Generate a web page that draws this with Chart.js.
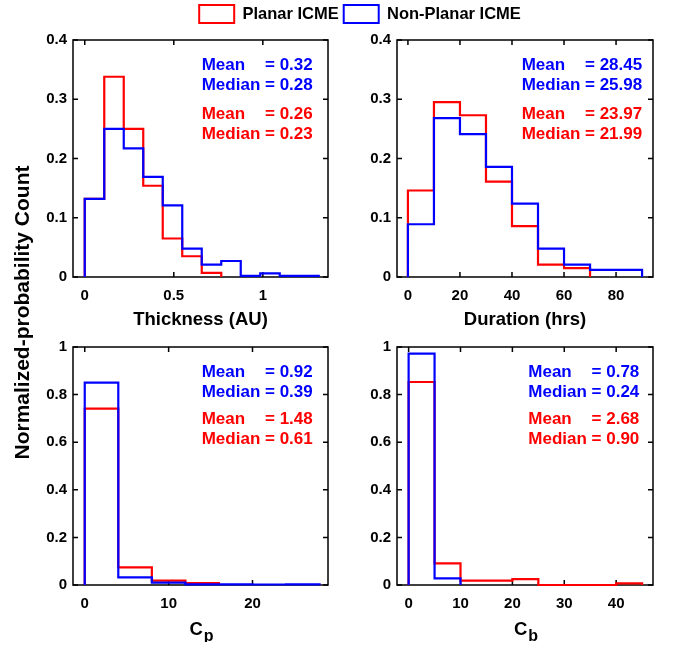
<!DOCTYPE html>
<html><head><meta charset="utf-8">
<script src="https://cdn.jsdelivr.net/npm/chart.js@4.4.0/dist/chart.umd.min.js"></script>
<style>
html,body{margin:0;padding:0;background:#fff;}
#wrap{position:relative;width:673px;height:650px;overflow:hidden;background:#fff;}
canvas{position:absolute;}
</style></head><body><div id="wrap">
<canvas id="bg"></canvas>
<canvas id="c1"></canvas>
<canvas id="c2"></canvas>
<canvas id="c3"></canvas>
<canvas id="c4"></canvas>
</div>
<script>
// ---------------- DATA ----------------
const seriesNames = ['Planar ICME', 'Non-Planar ICME'];
const yAxisTitle = 'Normalized-probability Count';

// Thickness (AU)
const thicknessEdges = [0, 0.1095, 0.219, 0.3285, 0.438, 0.5475, 0.657, 0.7665, 0.876, 0.9855, 1.095, 1.2045, 1.314];
const thicknessPlanar = [0.132, 0.338, 0.250, 0.154, 0.065, 0.035, 0.007];
const thicknessNonPlanar = [0.132, 0.250, 0.217, 0.169, 0.121, 0.048, 0.021, 0.027, 0.002, 0.006, 0.002, 0.002];
const thicknessXTicks = [0, 0.5, 1];
const thicknessXLabels = ['0', '0.5', '1'];
const thicknessStatsPlanar = ['0.26', '0.23'];
const thicknessStatsNonPlanar = ['0.32', '0.28'];

// Duration (hrs)
const durationEdges = [0, 10, 20, 30, 40, 50, 60, 70, 80, 90];
const durationPlanar = [0.146, 0.295, 0.273, 0.161, 0.086, 0.021, 0.015];
const durationNonPlanar = [0.089, 0.268, 0.241, 0.186, 0.124, 0.048, 0.021, 0.012, 0.012];
const durationXTicks = [0, 20, 40, 60, 80];
const durationXLabels = ['0', '20', '40', '60', '80'];
const durationStatsPlanar = ['23.97', '21.99'];
const durationStatsNonPlanar = ['28.45', '25.98'];

// Cp
const cpEdges = [0, 4, 8, 12, 16, 20, 24, 28];
const cpPlanar = [0.741, 0.074, 0.018, 0.008];
const cpNonPlanar = [0.850, 0.032, 0.010, 0.003, 0.003, 0.002, 0.003];
const cpXTicks = [0, 10, 20];
const cpXLabels = ['0', '10', '20'];
const cpStatsPlanar = ['1.48', '0.61'];
const cpStatsNonPlanar = ['0.92', '0.39'];

// Cb
const cbEdges = [0, 5, 10, 15, 20, 25, 30, 35, 40, 45];
const cbPlanar = [0.853, 0.091, 0.018, 0.018, 0.025, 0, 0, 0, 0.007];
const cbNonPlanar = [0.972, 0.028];
const cbXTicks = [0, 10, 20, 30, 40];
const cbXLabels = ['0', '10', '20', '30', '40'];
const cbStatsPlanar = ['2.68', '0.90'];
const cbStatsNonPlanar = ['0.78', '0.24'];

const topYTicks = [0, 0.1, 0.2, 0.3, 0.4];
const topYLabels = ['0', '0.1', '0.2', '0.3', '0.4'];
const botYTicks = [0, 0.2, 0.4, 0.6, 0.8, 1];
const botYLabels = ['0', '0.2', '0.4', '0.6', '0.8', '1'];

// ---------------- STYLE / LAYOUT ----------------
const RED = '#ff0000', BLUE = '#0000ff';
const FONT = '"Liberation Sans", Arial, Helvetica, sans-serif';
Chart.defaults.font.family = FONT;
Chart.defaults.color = '#000';

function stairs(edges, vals) {
  const pts = [{x: edges[0], y: 0}];
  vals.forEach((v, i) => pts.push({x: edges[i], y: v}));
  pts.push({x: edges[vals.length], y: 0});
  return pts;
}

const boxPlugin = {
  id: 'matlabBox',
  beforeDatasetsDraw(chart) {
    const {ctx, chartArea: a, scales: {x, y}} = chart;
    ctx.save();
    ctx.strokeStyle = '#000';
    ctx.lineWidth = 1.5;
    ctx.strokeRect(a.left, a.top, a.right - a.left, a.bottom - a.top);
    const L = 5;
    ctx.beginPath();
    x.ticks.forEach(t => {
      const px = x.getPixelForValue(t.value);
      ctx.moveTo(px, a.bottom); ctx.lineTo(px, a.bottom - L);
      ctx.moveTo(px, a.top); ctx.lineTo(px, a.top + L);
    });
    y.ticks.forEach(t => {
      const py = y.getPixelForValue(t.value);
      ctx.moveTo(a.left, py); ctx.lineTo(a.left + L, py);
      ctx.moveTo(a.right, py); ctx.lineTo(a.right - L, py);
    });
    ctx.stroke();
    ctx.restore();
  },
  afterDatasetsDraw(chart, args, opts) {
    const {ctx, chartArea: a} = chart;
    if (!opts || !opts.groups) return;
    ctx.save();
    ctx.font = 'bold 17px ' + FONT;
    ctx.textBaseline = 'alphabetic';
    const x0 = a.left + opts.dx;
    opts.groups.forEach(g => {
      const wMed = ctx.measureText('Median = ' + g.vals[1]).width;
      ctx.fillStyle = g.color;
      ctx.textAlign = 'left';
      ctx.fillText('Mean', x0, a.top + g.y[0]);
      ctx.fillText('Median = ' + g.vals[1], x0, a.top + g.y[1]);
      ctx.textAlign = 'right';
      ctx.fillText('= ' + g.vals[0], x0 + wMed, a.top + g.y[0]);
    });
    if (opts.sub) {
      ctx.fillStyle = '#000';
      ctx.textAlign = 'left';
      ctx.font = 'bold 18.5px ' + FONT;
      const wc = ctx.measureText(opts.sub[0]).width;
      ctx.font = 'bold 16px ' + FONT;
      const ws = ctx.measureText(opts.sub[1]).width;
      const cx = (a.left + a.right) / 2 + 1;
      const sx = cx - (wc + ws + 1) / 2;
      ctx.font = 'bold 18.5px ' + FONT;
      ctx.fillText(opts.sub[0], sx, a.bottom + 50);
      ctx.font = 'bold 16px ' + FONT;
      ctx.fillText(opts.sub[1], sx + wc + 1, a.bottom + 56);
    }
    ctx.restore();
  }
};

function makePanel(id, geom, xr, edges, planar, nonPlanar, xt, xl, yt, yl, xTitle, sub, statsP, statsNP, dx, ys) {
  const cv = document.getElementById(id);
  const [pl, pt, pr, pb] = geom;
  const W = 60 + (pr - pl) + 15, H = 15 + (pb - pt) + 57;
  cv.width = W; cv.height = H;
  cv.style.left = (pl - 60) + 'px'; cv.style.top = (pt - 15) + 'px';
  cv.style.width = W + 'px'; cv.style.height = H + 'px';
  return new Chart(cv, {
    type: 'line',
    data: {
      datasets: [
        {label: seriesNames[0], data: stairs(edges, planar), borderColor: RED, order: 1},
        {label: seriesNames[1], data: stairs(edges, nonPlanar), borderColor: BLUE, order: 0}
      ].map(d => Object.assign(d, {
        borderWidth: 2.2, pointRadius: 0, fill: false, stepped: 'before', tension: 0,
        clip: false, borderJoinStyle: 'miter', borderCapStyle: 'butt'
      }))
    },
    options: {
      responsive: false, animation: false, devicePixelRatio: 1,
      layout: {padding: {top: 15, right: 15, left: 0, bottom: 0}},
      plugins: {
        legend: {display: false}, tooltip: {enabled: false},
        matlabBox: {
          dx: dx,
          groups: [
            {color: BLUE, vals: statsNP, y: [ys[0], ys[1]]},
            {color: RED, vals: statsP, y: [ys[2], ys[3]]}
          ],
          sub: sub
        }
      },
      scales: {
        x: {
          type: 'linear', min: xr[0], max: xr[1],
          afterBuildTicks: s => { s.ticks = xt.map(v => ({value: v})); },
          afterFit: s => { s.height = 57; },
          ticks: {callback: (v, i) => xl[i], autoSkip: false, maxRotation: 0, padding: 10,
                  font: {size: 15, weight: 'bold'}, color: '#000'},
          grid: {display: false, drawTicks: false},
          border: {display: false},
          title: {display: !!xTitle, text: xTitle || '', font: {size: 18.5, weight: 'bold'},
                  color: '#000', padding: {top: 0, bottom: 3}}
        },
        y: {
          type: 'linear', min: yt[0], max: yt[yt.length - 1],
          afterBuildTicks: s => { s.ticks = yt.map(v => ({value: v})); },
          afterFit: s => { s.width = 60; },
          ticks: {callback: (v, i) => yl[i], autoSkip: false, padding: 6,
                  font: {size: 15, weight: 'bold'}, color: '#000'},
          grid: {display: false, drawTicks: false},
          border: {display: false}
        }
      }
    },
    plugins: [boxPlugin]
  });
}

const topYs = [29.5, 49.5, 78.5, 98.5];
const botYs = [29.5, 49.5, 76.5, 96.5];

makePanel('c1', [73, 40, 328, 277], [-0.066, 1.366], thicknessEdges, thicknessPlanar, thicknessNonPlanar,
  thicknessXTicks, thicknessXLabels, topYTicks, topYLabels, 'Thickness (AU)', null,
  thicknessStatsPlanar, thicknessStatsNonPlanar, 128.7, topYs);
makePanel('c2', [397, 40, 653, 277], [-4.2, 94.2], durationEdges, durationPlanar, durationNonPlanar,
  durationXTicks, durationXLabels, topYTicks, topYLabels, 'Duration (hrs)', null,
  durationStatsPlanar, durationStatsNonPlanar, 124.7, topYs);
makePanel('c3', [73, 347, 328, 585], [-1.4, 29.0], cpEdges, cpPlanar, cpNonPlanar,
  cpXTicks, cpXLabels, botYTicks, botYLabels, null, ['C', 'p'],
  cpStatsPlanar, cpStatsNonPlanar, 128.7, botYs);
makePanel('c4', [397, 347, 653, 585], [-2.24, 47.1], cbEdges, cbPlanar, cbNonPlanar,
  cbXTicks, cbXLabels, botYTicks, botYLabels, null, ['C', 'b'],
  cbStatsPlanar, cbStatsNonPlanar, 131.3, botYs);

// Legend + shared y-axis title
const bg = document.getElementById('bg');
bg.width = 720; bg.height = 650;
bg.style.left = '0px'; bg.style.top = '0px';
bg.style.width = '720px'; bg.style.height = '650px';
new Chart(bg, {
  type: 'line',
  data: {datasets: [
    {label: seriesNames[0], data: [], borderColor: RED, backgroundColor: '#fff', borderWidth: 2},
    {label: seriesNames[1], data: [], borderColor: BLUE, backgroundColor: '#fff', borderWidth: 2}
  ]},
  options: {
    responsive: false, animation: false, devicePixelRatio: 1,
    layout: {padding: 0},
    scales: {x: {display: false}, y: {display: false}},
    plugins: {
      tooltip: {enabled: false},
      legend: {display: true, position: 'top', align: 'center',
        labels: {boxWidth: 35, boxHeight: 18, padding: 5, color: '#000',
                 font: {size: 16.5, weight: 'bold'}}}
    }
  },
  plugins: [{
    id: 'yTitle',
    afterDraw(chart) {
      const ctx = chart.ctx;
      ctx.save();
      ctx.translate(23.5, 312.5);
      ctx.rotate(-Math.PI / 2);
      ctx.font = 'bold 21px ' + FONT;
      ctx.fillStyle = '#000';
      ctx.textAlign = 'center';
      ctx.textBaseline = 'middle';
      ctx.fillText(yAxisTitle, 0, 0);
      ctx.restore();
    }
  }]
});
</script>
</body></html>
